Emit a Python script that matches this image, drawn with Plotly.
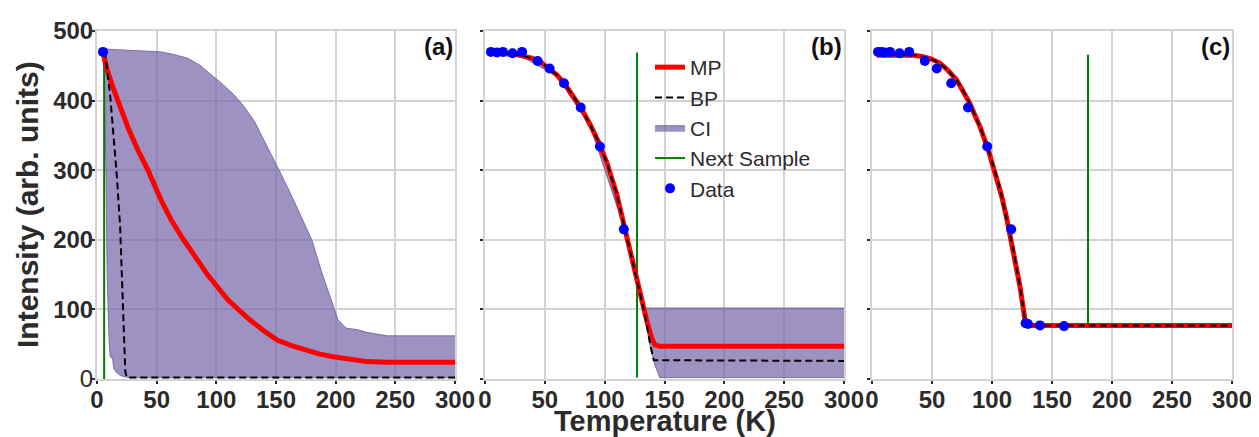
import plotly.graph_objects as go

# ---------------- data ----------------
# Panel (a)
a_data_T = [5]
a_data_I = [470]
a_mp_T = [5, 8, 12.5, 19, 26, 34, 43, 54, 62, 71, 82, 93, 110, 128, 140, 151, 163, 175, 186, 198, 212, 226, 243, 260, 300]
a_mp_I = [470, 447, 423, 392, 361, 330, 299, 256, 229, 204, 175, 149, 113, 85, 69, 56, 48, 42, 36, 32, 28, 25, 24, 24, 24]
a_bp_T = [5, 7, 11, 14, 16.7, 19.4, 20.8, 22.3, 23.7, 25, 300]
a_bp_I = [470, 466, 408, 347, 290, 218, 151, 90, 11, 2, 2]
a_ci_up_T = [5, 7, 30, 54, 65, 76, 86, 96, 105, 115, 123, 132, 140, 149, 157, 165, 172, 180, 188, 195, 198, 202, 209, 218, 226, 243, 300]
a_ci_up_I = [472, 474, 472, 470, 466, 461, 451, 437, 424, 408, 392, 370, 343, 313, 285, 256, 230, 200, 155, 120, 104, 85, 73, 71, 67, 62, 62]
a_ci_lo_T = [5, 6, 7.5, 8.5, 10, 11, 13, 14, 16, 19.5, 24, 27, 300]
a_ci_lo_I = [470, 420, 300, 150, 60, 32, 30, 15, 10, 5, 3, 2, 2]
a_next_T = [6, 6]
a_next_I = [0, 470]

# Panel (b)
b_data_T = [5, 10, 15, 23, 31, 44, 54, 66, 80, 96, 116]
b_data_I = [470, 469, 470, 468, 470, 457, 446, 425, 390, 334, 215]
b_mp_T = [5, 18, 25, 32, 39, 46, 53, 60, 67, 74, 81, 88, 95, 102, 110, 117, 122, 127.6, 131, 135, 139, 142, 146, 300]
b_mp_I = [468, 468, 467, 464, 461, 456, 447, 437, 423, 406, 387, 365, 340, 310, 266, 215, 178, 138, 111, 85, 60, 49, 47, 47]
b_bp_T = [5, 18, 25, 32, 39, 46, 53, 60, 67, 74, 81, 88, 95, 102, 110, 117, 122, 127.6, 131, 134, 138, 141, 300]
b_bp_I = [468, 468, 467, 464, 461, 456, 447, 437, 423, 406, 387, 365, 340, 310, 266, 215, 178, 138, 111, 90, 50, 27, 26]
b_ci_up_T = [5, 32, 60, 88, 117, 128, 133.7, 300]
b_ci_up_I = [470, 466, 439, 367, 217, 135, 102, 102]
b_ci_lo_T = [5, 32, 60, 88, 117, 128, 134, 138, 142, 146, 300]
b_ci_lo_I = [466, 462, 435, 363, 213, 130, 85, 47, 20, 2, 2]
b_next_T = [127, 127]
b_next_I = [2, 469]

# Panel (c)
c_data_T = [5, 8, 10.6, 15, 23, 31, 44, 54, 66, 80, 96, 116, 128, 130, 140, 160]
c_data_I = [470, 470, 469, 470, 468, 470, 457, 446, 425, 390, 334, 215, 80, 79, 77, 76]
c_mp_T = [4, 35, 42.6, 49, 56.5, 63, 70.4, 76, 81.5, 86, 89.9, 96.9, 103.8, 108, 112, 117.7, 123.3, 127.5, 129, 300]
c_mp_I = [465, 465, 463, 460, 454, 444, 430, 414, 396, 378, 363, 329, 291, 263, 233, 186, 133, 85, 77, 77]
c_bp_T = c_mp_T
c_bp_I = c_mp_I
c_next_T = [180, 180]
c_next_I = [79, 466]

data_err = 4

x_ticks = [0, 50, 100, 150, 200, 250, 300]
y_ticks = [0, 100, 200, 300, 400, 500]
y_ticktext = ["0", "<b>100</b>", "<b>200</b>", "<b>300</b>", "<b>400</b>", "<b>500</b>"]
panel_labels = ["(a)", "(b)", "(c)"]
x_title = "Temperature (K)"
y_title = "Intensity (arb. units)"

# ---------------- styles ----------------
RED = "#ff0000"
GREEN = "#008000"
BLUE = "#0000ff"
BAND_FILL = "rgba(117,100,168,0.70)"
BAND_LINE = "rgba(110,95,165,0.85)"
GRID = "#d3d3d3"
TXT = "#2b2b2b"
FONT = "Liberation Sans, Arial, sans-serif"

fig = go.Figure()

panels = [
    dict(ax="", data=(a_data_T, a_data_I), mp=(a_mp_T, a_mp_I), bp=(a_bp_T, a_bp_I),
         ci=((a_ci_lo_T, a_ci_lo_I), (a_ci_up_T, a_ci_up_I)), nxt=(a_next_T, a_next_I)),
    dict(ax="2", data=(b_data_T, b_data_I), mp=(b_mp_T, b_mp_I), bp=(b_bp_T, b_bp_I),
         ci=((b_ci_lo_T, b_ci_lo_I), (b_ci_up_T, b_ci_up_I)), nxt=(b_next_T, b_next_I)),
    dict(ax="3", data=(c_data_T, c_data_I), mp=(c_mp_T, c_mp_I), bp=(c_bp_T, c_bp_I),
         ci=None, nxt=(c_next_T, c_next_I)),
]

for i, p in enumerate(panels):
    xa = "x" + p["ax"]
    ya = "y" + p["ax"]
    leg = (i == 1)
    if p["ci"] is not None:
        (lo_T, lo_I), (up_T, up_I) = p["ci"]
        fig.add_trace(go.Scatter(x=lo_T, y=lo_I, mode="lines", xaxis=xa, yaxis=ya,
                                 line=dict(color=BAND_LINE, width=1), showlegend=False,
                                 hoverinfo="skip"))
        fig.add_trace(go.Scatter(x=up_T, y=up_I, mode="lines", xaxis=xa, yaxis=ya,
                                 line=dict(color=BAND_LINE, width=1), fill="tonexty",
                                 fillcolor=BAND_FILL, name="CI", showlegend=leg,
                                 legendrank=3))
    fig.add_trace(go.Scatter(x=p["nxt"][0], y=p["nxt"][1], mode="lines", xaxis=xa, yaxis=ya,
                             line=dict(color=GREEN, width=2), name="Next Sample",
                             showlegend=leg, legendrank=4))
    fig.add_trace(go.Scatter(x=p["mp"][0], y=p["mp"][1], mode="lines", xaxis=xa, yaxis=ya,
                             line=dict(color=RED, width=5),
                             name="MP", showlegend=leg, legendrank=1))
    fig.add_trace(go.Scatter(x=p["bp"][0], y=p["bp"][1], mode="lines", xaxis=xa, yaxis=ya,
                             line=dict(color="black", width=2, dash="7px,4px"),
                             name="BP", showlegend=leg, legendrank=2))
    fig.add_trace(go.Scatter(x=p["data"][0], y=p["data"][1], mode="markers", xaxis=xa, yaxis=ya,
                             marker=dict(color=BLUE, size=10),
                             error_y=dict(type="constant", value=data_err, color=BLUE,
                                          thickness=2, width=0),
                             name="Data", showlegend=leg, legendrank=5))

# the page places the figure 8px in from the top-left corner
OFF = 8
W, H = 1259 - OFF, 437 - OFF
L, T = 97 - OFF, 31 - OFF
R = W - (1232 - OFF)
B = H - (379 - OFF)
pw = W - L - R
ph = H - T - B
domains = [
    [0, 358 / pw],
    [(485 - 97) / pw, (844 - 97) / pw],
    [(872 - 97) / pw, 1.0],
]

common_x = dict(range=[0, 300], tickvals=x_ticks, showgrid=True, gridcolor=GRID, gridwidth=2,
                showline=True, linecolor=GRID, linewidth=2, mirror=True, zeroline=False,
                ticks="outside", ticklen=3, tickwidth=2, tickcolor=TXT, automargin=False,
                ticklabelstandoff=-5,
                tickfont=dict(family=FONT, size=24, color=TXT, weight="bold"))
common_y = dict(range=[0, 500], tickvals=y_ticks, showgrid=True, gridcolor=GRID, gridwidth=2,
                showline=True, linecolor=GRID, linewidth=2, mirror=True, zeroline=False,
                ticks="outside", ticklen=3, tickwidth=2, tickcolor=TXT, automargin=False,
                ticklabelstandoff=-6,
                tickfont=dict(family=FONT, size=24, color=TXT))

layout = dict(
    width=W, height=H, margin=dict(l=L, r=R, t=T, b=B, pad=0, autoexpand=False),
    paper_bgcolor="white", plot_bgcolor="white",
    font=dict(family=FONT, color=TXT),
    legend=dict(x=(650 - 97) / pw, y=1 - (47 - 31) / ph, xanchor="left", yanchor="top",
                bgcolor="rgba(0,0,0,0)", font=dict(family=FONT, size=21, color=TXT),
                itemwidth=30, tracegroupgap=0, traceorder="normal"),
)
for i, ax in enumerate(["", "2", "3"]):
    xd = dict(common_x, domain=domains[i], anchor="y" + ax)
    yd = dict(common_y, domain=[0, 1], anchor="x" + ax)
    if i == 0:
        yd["ticktext"] = y_ticktext
    else:
        yd["showticklabels"] = False
    layout["xaxis" + ax] = xd
    layout["yaxis" + ax] = yd

fig.update_layout(**layout)

# axis titles
fig.add_annotation(text="<b>" + x_title + "</b>", xref="x2 domain", yref="paper",
                   x=0.5, y=(379 - 421) / ph, xanchor="center", yanchor="middle",
                   showarrow=False, font=dict(family=FONT, size=29, color=TXT))
fig.add_annotation(text="<b>" + y_title + "</b>", xref="paper", yref="paper",
                   x=(27 - 97) / pw, y=0.5, xanchor="center", yanchor="middle", textangle=-90,
                   showarrow=False, font=dict(family=FONT, size=30, color=TXT))

for i, ax in enumerate(["", "2", "3"]):
    fig.add_annotation(text="<b>" + panel_labels[i] + "</b>", xref="x" + ax + " domain",
                       yref="y" + ax + " domain", x=1.0, y=1.0, xanchor="right", yanchor="top",
                       showarrow=False, font=dict(family=FONT, size=24, color="#111111"))

fig.write_html("out.html")
